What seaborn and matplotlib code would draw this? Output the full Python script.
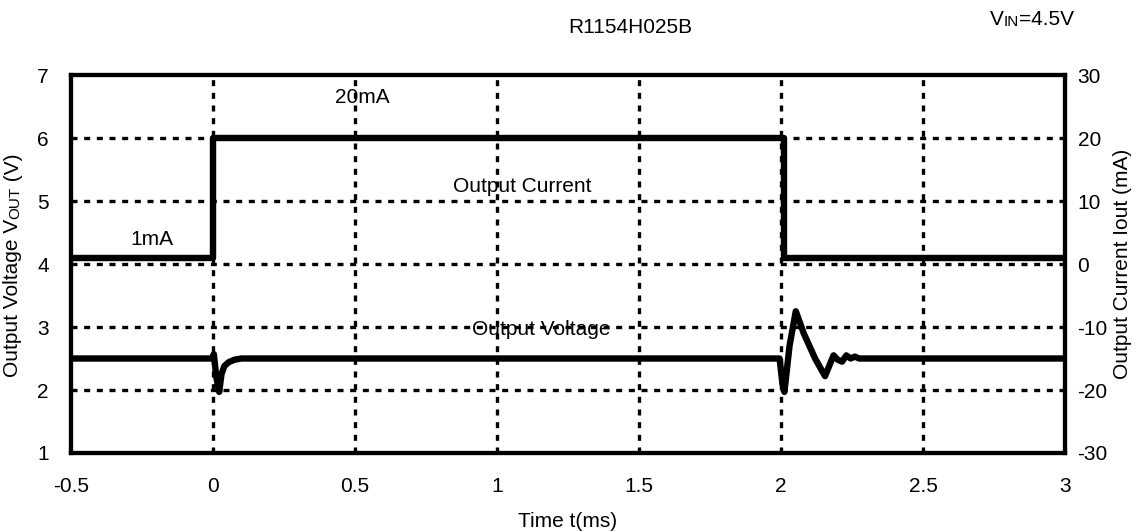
import matplotlib
matplotlib.use("Agg")
import matplotlib.pyplot as plt
import seaborn as sns
import pandas as pd

# Output current step (mA)
cur_time = [-0.5, 0.0, 0.0, 2.01, 2.01, 3.0]
cur_ma = [1, 1, 20, 20, 1, 1]

# Output voltage response (V)
volt_time = [-0.5, -0.002, 0.003, 0.012, 0.022, 0.03, 0.04, 0.055, 0.075, 0.1,
             1.995, 2.005, 2.012, 2.03, 2.052, 2.08, 2.12, 2.155, 2.185, 2.2,
             2.215, 2.23, 2.245, 2.26, 2.275, 3.0]
volt_v = [2.5, 2.5, 2.57, 2.2, 1.97, 2.25, 2.38, 2.44, 2.48, 2.5,
          2.5, 2.1, 1.97, 2.7, 3.25, 2.9, 2.5, 2.22, 2.55, 2.48,
          2.45, 2.55, 2.5, 2.53, 2.5, 2.5]

x_ticks = [-0.5, 0, 0.5, 1, 1.5, 2, 2.5, 3]
x_labels = ["-0.5", "0", "0.5", "1", "1.5", "2", "2.5", "3"]
v_ticks = [1, 2, 3, 4, 5, 6, 7]
i_ticks = [-30, -20, -10, 0, 10, 20, 30]
i_labels = ["-30", "-20", "-10", "0", "10", "20", "30"]

sns.set_style("white")
plt.rcParams["font.family"] = ["Liberation Sans", "DejaVu Sans"]
plt.rcParams["text.color"] = "black"
FS = 15
SMALL = 11


def small_caps(fig, x, y, parts, rotation=0):
    # parts: list of (text, size); chained so each starts where the last ended
    first = fig.text(x, y, parts[0][0], fontsize=parts[0][1], rotation=rotation,
                     ha="center" if rotation else "left", va="bottom" if rotation else "center")
    prev = first
    for txt, size in parts[1:]:
        if rotation:
            prev = fig.text(0, 0, "")
            prev = plt.annotate(txt, xy=(1, 1), xycoords=prev_art[0], fontsize=size,
                                rotation=rotation, ha="right", va="bottom",
                                annotation_clip=False)
        else:
            prev = plt.annotate(txt, xy=(1, 0), xycoords=prev, fontsize=size,
                                ha="left", va="bottom", annotation_clip=False)
    return first


fig = plt.figure(figsize=(11.37, 5.32), dpi=100)
ax = fig.add_axes([0.0624, 0.1485, 0.8743, 0.7105])
ax2 = ax.twinx()

grid_style = dict(color="black", lw=2.4, linestyle=(0, (1.8, 2.0)), zorder=1)
for x in x_ticks[1:-1]:
    ax.axvline(x, **grid_style)
for y in v_ticks[1:-1]:
    ax.axhline(y, **grid_style)

df_v = pd.DataFrame({"t": volt_time, "v": volt_v})
df_i = pd.DataFrame({"t": cur_time, "i": cur_ma})
sns.lineplot(data=df_v, x="t", y="v", ax=ax, color="black", lw=4.6, sort=False,
             estimator=None, zorder=3)
sns.lineplot(data=df_i, x="t", y="i", ax=ax2, color="black", lw=4.6, sort=False,
             estimator=None, zorder=3)

ax.set_xlim(-0.5, 3)
ax.set_ylim(1, 7)
ax2.set_ylim(-30, 30)
ax.set_xticks(x_ticks)
ax.set_xticklabels(x_labels)
ax.set_yticks(v_ticks)
ax.set_yticklabels([str(v) for v in v_ticks])
ax2.set_yticks(i_ticks)
ax2.set_yticklabels(i_labels)

for a in (ax, ax2):
    for s in a.spines.values():
        s.set_linewidth(3)
        s.set_color("black")
    a.tick_params(length=0, labelsize=FS, labelcolor="black")
ax.tick_params(axis="x", pad=17)
ax.tick_params(axis="y", pad=16)
ax2.tick_params(axis="y", pad=9)

ax.set_xlabel("Time t(ms)", fontsize=FS, labelpad=12, color="black")
ax.set_ylabel("")
ax2.set_ylabel("Output Current Iout (mA)", fontsize=FS, labelpad=4, color="black")

# left label with small-caps "OUT"
y_px = 532.0
t1 = fig.text(13 / 1137, (y_px - 377) / y_px, "Output Voltage V", fontsize=FS,
              rotation=90, ha="center", va="bottom")
t2 = ax.annotate("OUT", xy=(1, 1), xycoords=t1, fontsize=SMALL, rotation=90,
                 ha="right", va="bottom", annotation_clip=False)
ax.annotate(" (V)", xy=(1, 1), xycoords=t2, fontsize=FS, rotation=90,
            ha="right", va="bottom", annotation_clip=False)

ax.text(0.525, 6.55, "20mA", fontsize=FS, ha="center", va="baseline")
ax.text(-0.215, 4.3, "1mA", fontsize=FS, ha="center", va="baseline")
ax.text(1.09, 5.15, "Output Current", fontsize=FS, ha="center", va="baseline")
ax.text(1.155, 2.87, "Output Voltage", fontsize=FS, ha="center", va="baseline")

fig.text(630 / 1137, 1 - 28 / y_px, "R1154H025B", fontsize=FS, ha="center", va="center")

# top-right VIN=4.5V with small-caps "IN"
v1 = fig.text(990 / 1137, 1 - 25 / y_px, "V", fontsize=FS, ha="left", va="baseline")
v2 = ax.annotate("IN", xy=(1, 0), xycoords=v1, fontsize=SMALL, ha="left",
                 va="bottom", annotation_clip=False)
ax.annotate("=4.5V", xy=(1, 0), xycoords=v2, fontsize=FS, ha="left",
            va="bottom", annotation_clip=False)

fig.savefig("out.png", dpi=100)
